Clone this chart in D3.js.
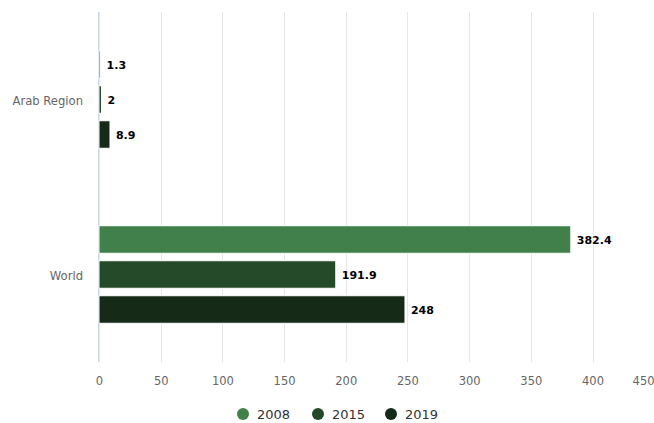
<!DOCTYPE html>
<html><head><meta charset="utf-8">
<script src="https://cdn.jsdelivr.net/npm/d3@7"></script>
<style>body{margin:0;background:#fff;}svg{display:block;font-family:"DejaVu Sans",sans-serif;}</style>
</head><body><svg id="c" width="654" height="423"></svg>
<script>
const categories = ["Arab Region", "World"];
const seriesNames = ["2008", "2015", "2019"];
const values2008 = [1.3, 382.4];
const values2015 = [2, 191.9];
const values2019 = [8.9, 248];
const seriesColors = ["#41804a", "#244a2a", "#162a18"];
const xTicks = [0, 50, 100, 150, 200, 250, 300, 350, 400, 450];

(function () {
const seriesValues = [values2008, values2015, values2019];
const svg = d3.select("#c");
const pLeft = 99, pRight = 654.2, pTop = 12, pBottom = 362;

const x = d3.scaleLinear().domain([0, 450]).range([pLeft, pRight]);
const y = d3.scaleBand().domain(categories).range([pTop, pBottom]);
const bw = y.bandwidth();
const span = 105;
const yi = d3.scaleBand().domain(seriesNames)
  .range([(bw - span) / 2, bw - (bw - span) / 2])
  .paddingInner(0.214).paddingOuter(0.107);

// grid
svg.append("g").selectAll("line").data(xTicks.filter(d => x(d) < 653)).join("line")
  .attr("x1", d => Math.round(x(d)) + 0.5).attr("x2", d => Math.round(x(d)) + 0.5)
  .attr("y1", pTop).attr("y2", pBottom)
  .attr("stroke", "#e6e6e6").attr("stroke-width", 1);

// bottom axis labels
const xAxis = d3.axisBottom(x).tickValues(xTicks).tickSize(0).tickPadding(0);
const gx = svg.append("g").attr("transform", `translate(0,${pBottom + 15})`).call(xAxis);
gx.select(".domain").remove();
gx.selectAll("text").attr("font-size", 11.5).attr("fill", "#666").attr("font-family", "DejaVu Sans, sans-serif");
gx.selectAll(".tick").filter(d => d === 450).select("text")
  .attr("text-anchor", "end").attr("x", 654 - x(450));

// category axis line
svg.append("line").attr("x1", pLeft - 0.5).attr("x2", pLeft - 0.5).attr("y1", pTop).attr("y2", pBottom)
  .attr("stroke", "#ccd6eb").attr("stroke-width", 1);

const yAxis = d3.axisLeft(y).tickSize(0).tickPadding(16);
const gy = svg.append("g").attr("transform", `translate(${pLeft},0)`).call(yAxis);
gy.select(".domain").remove();
gy.selectAll("text").attr("font-size", 11.6).attr("fill", "#666").attr("font-family", "DejaVu Sans, sans-serif")
  .attr("dy", "0.45em");

// bars
seriesNames.forEach((s, si) => {
  const g = svg.append("g");
  const data = categories.map((c, ci) => ({c, v: seriesValues[si][ci]}));
  g.selectAll("rect").data(data).join("rect")
    .attr("x", x(0))
    .attr("y", d => y(d.c) + yi(s))
    .attr("width", d => Math.max(0, x(d.v) - x(0)))
    .attr("height", yi.bandwidth())
    .attr("fill", seriesColors[si])
    .attr("stroke", "#fff").attr("stroke-width", 1);
  g.selectAll("text").data(data).join("text")
    .attr("x", d => x(d.v) + 6)
    .attr("y", d => y(d.c) + yi(s) + yi.bandwidth() / 2)
    .attr("dy", "0.38em")
    .attr("font-size", 11).attr("font-weight", "bold").attr("fill", "#000")
    .attr("stroke", "#fff").attr("stroke-width", 2).attr("paint-order", "stroke")
    .text(d => d.v);
});

// legend
const legendX = [243, 318, 391];
const lg = svg.append("g");
seriesNames.forEach((s, i) => {
  lg.append("circle").attr("cx", legendX[i]).attr("cy", 414).attr("r", 6).attr("fill", seriesColors[i]);
  lg.append("text").attr("x", legendX[i] + 14).attr("y", 414).attr("dy", "0.36em")
    .attr("font-size", 13).attr("fill", "#333").text(s);
});
})();
</script></body></html>
